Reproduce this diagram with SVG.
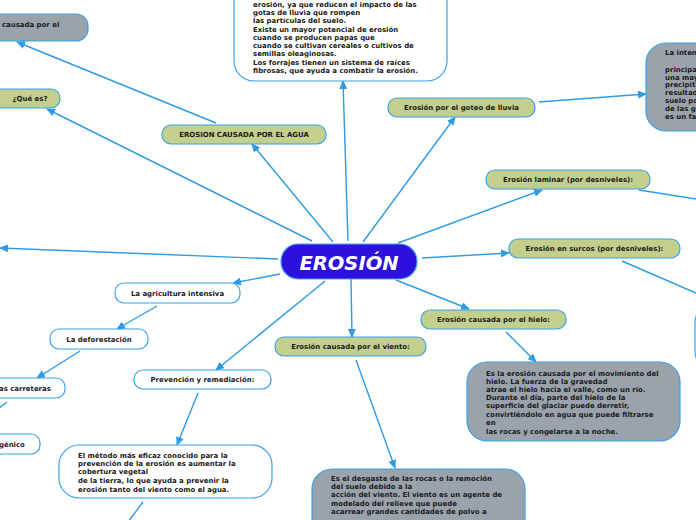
<svg xmlns="http://www.w3.org/2000/svg" width="696" height="520" viewBox="0 0 696 520">
<defs>
<marker id="ar" markerWidth="9" markerHeight="8" refX="8" refY="4" orient="auto" markerUnits="userSpaceOnUse">
<path d="M0,0 L9,4 L0,8 Z" fill="#2E9BE3"/>
</marker>
<style>
.c{fill:none;stroke:#2E9BE3;stroke-width:1.4}
.a{marker-end:url(#ar)}
.gr{fill:#C3CF8C;stroke:#3AA2E8;stroke-width:1.2}
.gy{fill:#9AA3AC;stroke:#3AA2E8;stroke-width:1.2}
.wh{fill:#FFFFFF;stroke:#3AA2E8;stroke-width:1.2}
text{font-family:"DejaVu Sans","Liberation Sans",sans-serif;font-weight:bold;font-size:6.95px;fill:#1A1A1A}
.m{text-anchor:middle}
.big{font-size:19.5px;font-style:italic;fill:#FFFFFF}
</style>
</defs>
<rect width="696" height="520" fill="#FFFFFF"/>
<g id="connectors">
<line class="c a" x1="312" y1="241" x2="47" y2="109"/>
<line class="c a" x1="216" y1="123" x2="17" y2="42"/>
<line class="c a" x1="333" y1="242" x2="252" y2="144"/>
<line class="c a" x1="348" y1="241" x2="343" y2="81"/>
<line class="c a" x1="363" y1="242" x2="455" y2="117"/>
<line class="c a" x1="539" y1="102" x2="646" y2="94"/>
<line class="c a" x1="398" y1="243" x2="542" y2="190"/>
<line class="c" x1="639" y1="190" x2="696" y2="199"/>
<line class="c a" x1="422" y1="258" x2="509" y2="253"/>
<line class="c" x1="622" y1="261" x2="696" y2="293"/>
<line class="c a" x1="396" y1="280" x2="469" y2="309"/>
<line class="c a" x1="506" y1="332" x2="536" y2="362"/>
<line class="c a" x1="351" y1="279" x2="352" y2="337"/>
<line class="c a" x1="356" y1="360" x2="395" y2="468"/>
<line class="c a" x1="325" y1="281" x2="216" y2="370"/>
<line class="c a" x1="198" y1="393" x2="177" y2="445"/>
<line class="c" x1="143" y1="502" x2="128" y2="522"/>
<line class="c a" x1="280" y1="274" x2="233" y2="283"/>
<line class="c a" x1="157" y1="306" x2="117" y2="329"/>
<line class="c a" x1="80" y1="351" x2="37" y2="378"/>
<line class="c" x1="7" y1="402" x2="-2" y2="409"/>
<line class="c a" x1="278" y1="259" x2="0" y2="248"/>
</g>
<g id="n-agua-def">
<rect class="gy" x="-20" y="14" width="108" height="27" rx="12"/>
<text x="2" y="26.5">causada por el</text>
</g>
<g id="n-que-es">
<rect class="gr" x="-20" y="89" width="80" height="19" rx="9"/>
<text class="m" x="30" y="101">¿Qué es?</text>
</g>
<g id="n-agua">
<rect class="gr" x="162" y="125" width="164" height="19" rx="9"/>
<text class="m" x="244" y="137">EROSION CAUSADA POR EL AGUA</text>
</g>
<g id="n-cultivos">
<rect class="wh" x="234" y="-30" width="213" height="111" rx="20"/>
<text x="253" y="6.5">erosión, ya que reducen el impacto de las</text>
<text x="253" y="15">gotas de lluvia que rompen</text>
<text x="253" y="23">las partículas del suelo.</text>
<text x="253" y="31.5">Existe un mayor potencial de erosión</text>
<text x="253" y="39.7">cuando se producen papas que</text>
<text x="253" y="48.3">cuando se cultivan cereales o cultivos de</text>
<text x="253" y="56">semillas oleaginosas.</text>
<text x="253" y="65">Los forrajes tienen un sistema de raíces</text>
<text x="253" y="73">fibrosas, que ayuda a combatir la erosión.</text>
</g>
<g id="n-goteo">
<rect class="gr" x="388" y="98" width="147" height="19" rx="9"/>
<text class="m" x="461.5" y="110">Erosión por el goteo de lluvia</text>
</g>
<g id="n-goteo-def">
<rect class="gy" x="646" y="43" width="80" height="88" rx="20"/>
<text x="665" y="55">La inten</text>
<text x="665" y="71.5">principa</text>
<text x="665" y="79.5">una may</text>
<text x="665" y="87.3">precipita</text>
<text x="665" y="95">resultad</text>
<text x="665" y="103">suelo po</text>
<text x="665" y="111">de las g</text>
<text x="665" y="119">es un fa</text>
</g>
<g id="n-laminar">
<rect class="gr" x="486" y="170" width="164" height="19" rx="9"/>
<text class="m" x="568" y="182">Erosión laminar (por desniveles):</text>
</g>
<g id="n-surcos">
<rect class="gr" x="509" y="239" width="171" height="19" rx="9"/>
<text class="m" x="594.5" y="251">Erosión en surcos (por desniveles):</text>
</g>
<g id="n-surcos-def">
<rect class="wh" x="695" y="303" width="80" height="68" rx="20"/>
</g>
<g id="n-erosion">
<rect x="281" y="244" width="136" height="35" rx="17" fill="#2E10DC" stroke="#4AA8E8" stroke-width="1.2"/>
<text class="m big" x="349" y="269.5">EROSIÓN</text>
</g>
<g id="n-hielo">
<rect class="gr" x="421" y="310" width="145" height="19" rx="9"/>
<text class="m" x="493.5" y="322">Erosión causada por el hielo:</text>
</g>
<g id="n-hielo-def">
<rect class="gy" x="467" y="362" width="213" height="79" rx="20"/>
<text x="486" y="375.5">Es la erosión causada por el movimiento del</text>
<text x="486" y="383.5">hielo. La fuerza de la gravedad</text>
<text x="486" y="391.5">atrae el hielo hacia el valle, como un río.</text>
<text x="486" y="400">Durante el día, parte del hielo de la</text>
<text x="486" y="408.3">superficie del glaciar puede derretir,</text>
<text x="486" y="416.7">convirtiéndolo en agua que puede filtrarse</text>
<text x="486" y="425">en</text>
<text x="486" y="434">las rocas y congelarse a la noche.</text>
</g>
<g id="n-viento">
<rect class="gr" x="275" y="337" width="151" height="19" rx="9"/>
<text class="m" x="350.5" y="349">Erosión causada por el viento:</text>
</g>
<g id="n-viento-def">
<rect class="gy" x="312" y="469" width="213" height="80" rx="20"/>
<text x="331" y="480.5">Es el desgaste de las rocas o la remoción</text>
<text x="331" y="489">del suelo debido a la</text>
<text x="331" y="497.3">acción del viento. El viento es un agente de</text>
<text x="331" y="505.6">modelado del relieve que puede</text>
<text x="331" y="514">acarrear grandes cantidades de polvo a</text>
</g>
<g id="n-agricultura">
<rect class="wh" x="115" y="283" width="125" height="20" rx="9"/>
<text class="m" x="177.5" y="295.5">La agricultura intensiva</text>
</g>
<g id="n-deforestacion">
<rect class="wh" x="50" y="329" width="98" height="20" rx="9"/>
<text class="m" x="99" y="341.5">La deforestación</text>
</g>
<g id="n-carreteras">
<rect class="wh" x="-30" y="378" width="95" height="20" rx="9"/>
<text x="-1" y="390.5">as carreteras</text>
</g>
<g id="n-genico">
<rect class="wh" x="-40" y="434" width="80" height="20" rx="9"/>
<text x="-1" y="446.5">génico</text>
</g>
<g id="n-prevencion">
<rect class="wh" x="134" y="370" width="137" height="19" rx="9"/>
<text class="m" x="202.5" y="382">Prevención y remediación:</text>
</g>
<g id="n-prevencion-def">
<rect class="wh" x="59" y="445" width="213" height="53" rx="20"/>
<text x="78" y="457.5">El método más eficaz conocido para la</text>
<text x="78" y="466">prevención de la erosión es aumentar la</text>
<text x="78" y="474.3">cobertura vegetal</text>
<text x="78" y="483">de la tierra, lo que ayuda a prevenir la</text>
<text x="78" y="491.5">erosión tanto del viento como el agua.</text>
</g>
</svg>
